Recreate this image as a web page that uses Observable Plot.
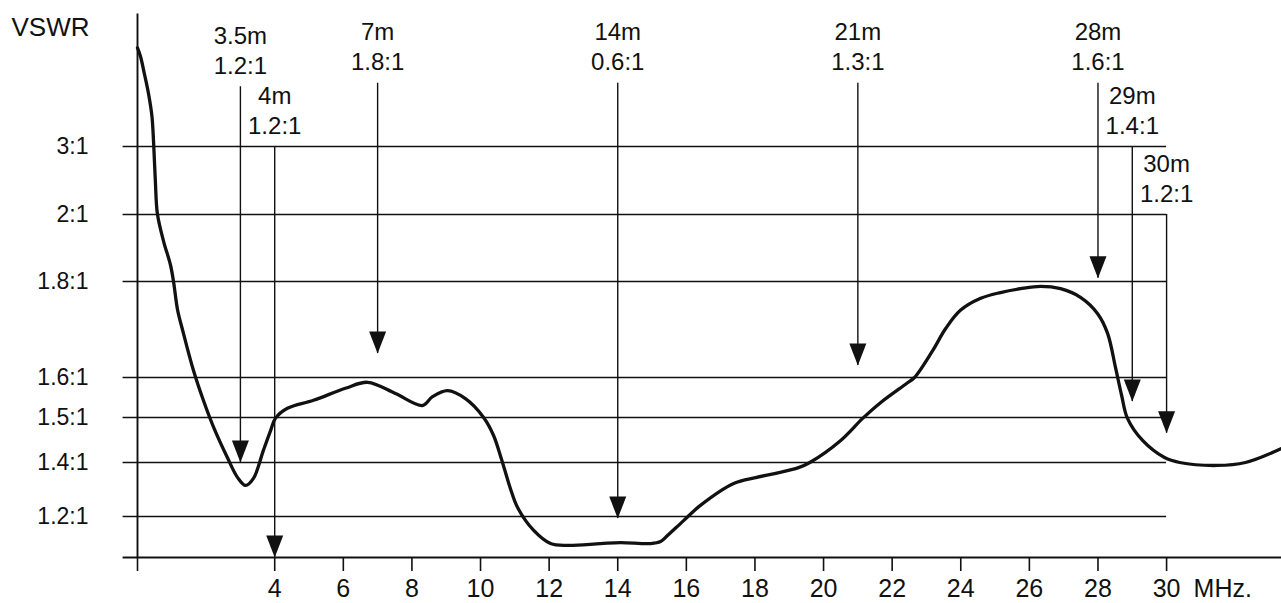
<!DOCTYPE html>
<html>
<head>
<meta charset="utf-8">
<script src="https://cdn.jsdelivr.net/npm/d3@7"></script>
<script src="https://cdn.jsdelivr.net/npm/@observablehq/plot@0.6"></script>
<style>
  html, body { margin: 0; padding: 0; background: #fff; }
  #chart { width: 1281px; height: 603px; overflow: hidden; }
</style>
</head>
<body>
<div id="chart"></div>
<script>
// ---- Data ----
// Measured VSWR curve
const freqMHz = [0.00, 0.09, 0.20, 0.32, 0.42, 0.47, 0.52, 0.58, 0.76, 0.96, 1.05, 1.17, 1.31, 1.63, 1.92, 2.22, 2.62, 2.92, 3.15, 3.38, 3.67, 3.88, 4.02, 4.37, 5.13, 6.06, 6.71, 7.52, 8.31, 8.60, 9.04, 9.56, 10.09, 10.38, 10.60, 10.87, 11.08, 11.55, 12.04, 12.54, 13.50, 14.08, 14.96, 15.25, 15.45, 15.92, 16.41, 17.38, 18.02, 18.57, 19.27, 19.60, 20.50, 21.14, 21.66, 22.42, 22.65, 23.18, 23.56, 23.99, 24.58, 25.16, 25.74, 26.33, 26.91, 27.49, 27.99, 28.28, 28.51, 28.69, 28.86, 29.30, 29.94, 30.38, 31.46, 32.30, 33.35];
const vswr    = [4.45, 4.32, 4.07, 3.78, 3.45, 3.05, 2.50, 2.01, 1.92, 1.85, 1.80, 1.74, 1.70, 1.615, 1.543, 1.478, 1.411, 1.344, 1.315, 1.341, 1.427, 1.471, 1.498, 1.523, 1.543, 1.573, 1.588, 1.56, 1.53, 1.552, 1.567, 1.547, 1.50, 1.46, 1.41, 1.304, 1.233, 1.132, 1.068, 1.059, 1.068, 1.073, 1.068, 1.078, 1.107, 1.18, 1.241, 1.322, 1.344, 1.359, 1.381, 1.40, 1.449, 1.498, 1.537, 1.585, 1.60, 1.656, 1.702, 1.74, 1.765, 1.777, 1.785, 1.79, 1.785, 1.767, 1.733, 1.692, 1.621, 1.555, 1.498, 1.449, 1.411, 1.40, 1.389, 1.40, 1.431];

// Band markers (arrows)
const bands       = ["3.5m", "4m", "7m", "14m", "21m", "28m", "29m", "30m"];
const bandRatios  = ["1.2:1", "1.2:1", "1.8:1", "0.6:1", "1.3:1", "1.6:1", "1.4:1", "1.2:1"];
const bandFreq    = [3, 4, 7, 14, 21, 28, 29, 30];
const arrowFrom   = [3.88, 3.0, 3.93, 3.93, 3.93, 3.93, 3.0, 2.0];
const arrowTo     = [1.40, 1.0, 1.65, 1.19, 1.625, 1.81, 1.54, 1.465];

// Axes
const vswrTicks      = [3, 2, 1.8, 1.6, 1.5, 1.4, 1.2];
const vswrTickLabels = ["3:1", "2:1", "1.8:1", "1.6:1", "1.5:1", "1.4:1", "1.2:1"];
const freqTicks      = [0, 4, 6, 8, 10, 12, 14, 16, 18, 20, 22, 24, 26, 28, 30];
const freqUnit       = "MHz.";
const yTitle         = "VSWR";

// Non-uniform (hand-drawn) VSWR axis: piecewise-linear scale stops
const yStops  = [1.0, 1.2, 1.4, 1.5, 1.6, 1.8, 2, 3, 5];
const yPixels = [557, 516, 462, 417, 377, 281, 214, 146, 10];

// ---- Build ----
const curve = freqMHz.map((f, i) => ({f, v: vswr[i]}));
const arrows = bands.map((b, i) => ({
  band: b, ratio: bandRatios[i], f: bandFreq[i], from: arrowFrom[i], to: arrowTo[i]
}));
const ink = "#111";
const gridStart = -0.42;
const gridEnd = d3.max(freqTicks);
const xMax = 33.35;
const yBase = yStops[0];
const yTop = 4.95;

const arrowHead = {
  draw(ctx) {
    ctx.moveTo(-8.5, -22);
    ctx.lineTo(8.5, -22);
    ctx.lineTo(0, 0);
    ctx.closePath();
  }
};

const chart = Plot.plot({
  width: 1281,
  height: 603,
  marginLeft: 137,
  marginRight: 0,
  marginTop: 10,
  marginBottom: 46,
  style: {fontFamily: "'Liberation Sans', Arial, Helvetica, sans-serif", background: "#fff", color: ink},
  x: {domain: [0, xMax], label: null},
  y: {type: "linear", domain: yStops, range: yPixels, label: null},
  marks: [
    // grid lines
    Plot.ruleY(vswrTicks, {x1: gridStart, x2: gridEnd, stroke: ink, strokeWidth: 1.7}),
    // baseline
    Plot.ruleY([yBase], {x1: gridStart, x2: xMax, stroke: ink, strokeWidth: 1.9}),
    // vertical axis line
    Plot.ruleX([0], {y1: yBase, y2: yTop, stroke: ink, strokeWidth: 1.9}),
    Plot.axisY({ticks: vswrTicks, tickSize: 0, tickPadding: 49, fontSize: 23,
      tickFormat: d => vswrTickLabels[vswrTicks.indexOf(d)], label: null}),
    Plot.axisX({ticks: freqTicks, tickSize: 14, tickPadding: 8, fontSize: 25, strokeWidth: 1.6,
      tickFormat: d => d === 0 ? "" : String(d), label: null}),
    Plot.text([freqUnit], {x: gridEnd, frameAnchor: "bottom", text: d => d, dx: 27, dy: 22,
      textAnchor: "start", lineAnchor: "top", fontSize: 25, fill: ink}),
    Plot.text([yTitle], {frameAnchor: "top-left", text: d => d, dx: -126, dy: 7,
      textAnchor: "start", lineAnchor: "top", fontSize: 26, fill: ink}),
    // arrows
    Plot.ruleX(arrows, {x: "f", y1: "from", y2: "to", stroke: ink, strokeWidth: 1.4}),
    Plot.dot(arrows, {x: "f", y: "to", symbol: arrowHead, r: 5, fill: ink, stroke: "none"}),
    Plot.text(arrows, {x: "f", y: "from", text: d => d.band + "\n" + d.ratio,
      lineAnchor: "bottom", lineHeight: 1.25, dy: -13, fontSize: 24, fill: ink}),
    // VSWR curve
    Plot.line(curve, {x: "f", y: "v", curve: "catmull-rom", stroke: ink, strokeWidth: 3.3})
  ]
});
document.getElementById("chart").appendChild(chart);
</script>
</body>
</html>
